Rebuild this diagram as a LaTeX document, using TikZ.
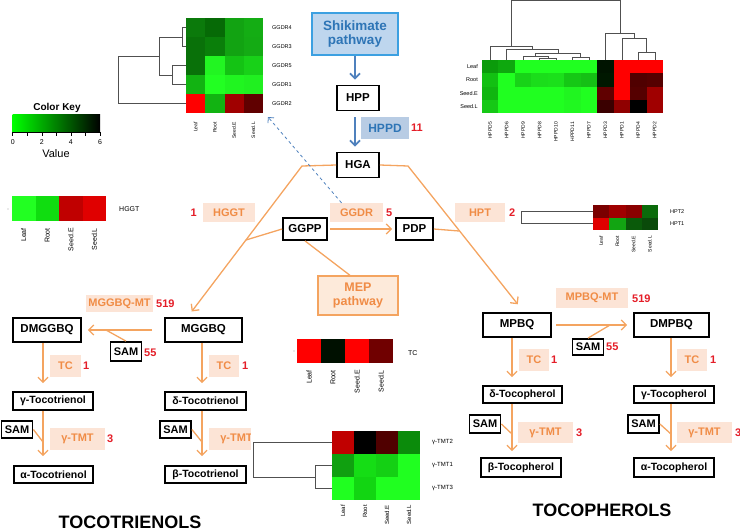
\documentclass[tikz,border=0pt]{standalone}
\usepackage{fontspec}
\setmainfont{Liberation Sans}
\newfontfamily\hmfont{Liberation Sans}
\usetikzlibrary{arrows.meta}

\definecolor{rxnline}{RGB}{244,164,96}
\definecolor{enzfill}{RGB}{252,228,214}
\definecolor{enztext}{RGB}{240,140,70}
\definecolor{numred}{RGB}{228,30,40}
\definecolor{shkfill}{RGB}{190,214,238}
\definecolor{shkdraw}{RGB}{60,160,225}
\definecolor{shktext}{RGB}{46,117,182}
\definecolor{hppdfill}{RGB}{184,204,228}
\definecolor{bluearrow}{RGB}{79,129,189}
\definecolor{mepfill}{RGB}{253,234,218}
\definecolor{dendro}{RGB}{80,80,80}
\definecolor{keygreen}{RGB}{0,255,0}

\tikzset{
  mol/.style={draw=black, line width=1.8pt, font=\bfseries\fontsize{11.5}{14}\selectfont, inner sep=0pt, minimum height=24pt},
  sam/.style={mol, minimum width=31pt, minimum height=17pt, font=\bfseries\fontsize{11}{12}\selectfont},
  prod/.style={mol, minimum width=80pt, minimum height=18pt, font=\bfseries\fontsize{10.5}{12}\selectfont},
  enz/.style={fill=enzfill, text=enztext, font=\bfseries\fontsize{11}{13}\selectfont, inner sep=0pt, minimum height=21pt},
  num/.style={text=numred, font=\bfseries\fontsize{11}{13}\selectfont, anchor=west, inner sep=0pt},
  rxn/.style={draw=rxnline, line width=1.3pt, -{Straight Barb[length=5pt,width=10pt]}},
  feed/.style={draw=rxnline, line width=1.3pt},
  blue arrow/.style={draw=bluearrow, line width=1.8pt, -{Straight Barb[length=5pt,width=10pt]}},
  tree/.style={draw=dendro, line width=0.6pt},
  rowlab/.style={font=\hmfont\fontsize{5.5}{6}\selectfont, anchor=west, inner sep=0pt},
  collab/.style={font=\hmfont\fontsize{5}{6}\selectfont, rotate=90, anchor=east, inner sep=0pt},
  biglab/.style={font=\hmfont\fontsize{7}{8}\selectfont, inner sep=0pt},
  title/.style={font=\bfseries\fontsize{18}{22}\selectfont}
}

\begin{document}
\begin{tikzpicture}[x=1pt,y=-1pt]
  \useasboundingbox (0,0) rectangle (740,531);

  % columns of the two branches
  \coordinate (c1) at (43,0);
  \coordinate (c2) at (202,0);
  \coordinate (c3) at (512,0);
  \coordinate (c4) at (671,0);

  % shikimate side
  \node[draw=shkdraw, line width=1.3pt, fill=shkfill, text=shktext, align=center,
        font=\bfseries\fontsize{13.5}{14}\selectfont, minimum width=86pt, minimum height=42pt, inner sep=0pt]
        (shk) at (355,34) {Shikimate\\pathway};
  \node[mol, minimum width=42pt, minimum height=25pt] (hpp) at (358,98) {HPP};
  \node[mol, minimum width=42pt, minimum height=25pt] (hga) at (358,165) {HGA};
  \node[fill=hppdfill, text=shktext, font=\bfseries\fontsize{12}{14}\selectfont, inner sep=0pt,
        minimum width=48pt, minimum height=22pt] (hppd) at (385,128) {HPPD};
  \node[num] (n11) at (411,128) {11};
  \draw[blue arrow, shorten >=5pt] (shk.south) -- (shk.south |- hpp.north);
  \draw[blue arrow, shorten <=6pt, shorten >=5pt] (shk.south |- hpp.south) -- (shk.south |- hga.north);

  % prenyl side
  \node[mol, minimum width=44pt, minimum height=22pt] (ggpp) at (305,229) {GGPP};
  \node[mol, minimum width=37pt, minimum height=22pt] (pdp) at (414.5,229) {PDP};
  \node[enz, minimum width=52pt, minimum height=19pt] (hggt) at (229,212.5) {HGGT};
  \node[num, anchor=east] (n1e) at (197,212.5) {1};
  \node[enz, minimum width=53pt, minimum height=19pt] (ggdr) at (356.5,212.5) {GGDR};
  \node[num] (n5) at (386,212.5) {5};
  \node[enz, minimum width=50pt, minimum height=19pt] (hpt) at (480,212.5) {HPT};
  \node[num] (n2) at (509,212.5) {2};
  \node[draw=rxnline, line width=1.3pt, fill=mepfill, text=enztext, align=center,
        font=\bfseries\fontsize{12.5}{14}\selectfont, minimum width=80pt, minimum height=39pt, inner sep=0pt]
        (mep) at (358,295.5) {MEP\\pathway};
  \draw[rxn, shorten <=2pt, shorten >=3pt] (ggpp.east) -- (pdp.west);
  \draw[feed] ([xshift=-8pt]mep.north) -- (ggpp.south);

  % tocotrienol branch
  \node[mol, minimum width=68pt] (dmggbq) at (47,330) {DMGGBQ};
  \node[mol, minimum width=77pt] (mggbq) at (203.5,330) {MGGBQ};
  \node[enz, minimum width=67pt, minimum height=17pt] (mggbqmt) at (119.5,303.5) {MGGBQ-MT};
  \node[num] (n519a) at (156,304) {519};
  \node[sam, minimum height=19pt] (sama) at (126,351.5) {SAM};
  \node[num] (n55a) at (144,353) {55};
  \coordinate (fa) at (106,330);
  \draw[rxn, shorten <=12pt, shorten >=6pt] (mggbq.west) -- (dmggbq.east);
  \draw[feed] (sama.north) -- (fa);

  \node[enz, minimum width=31pt, minimum height=22pt] (tca) at (65.5,366) {TC};
  \node[num] (n1a) at (83,366) {1};
  \node[enz, minimum width=30pt, minimum height=22pt] (tcb) at (224,366) {TC};
  \node[num] (n1b) at (242,366) {1};
  \node[prod] (gt3) at (53,401) {γ-Tocotrienol};
  \node[prod, minimum width=81pt] (dt3) at (205.5,401) {δ-Tocotrienol};
  \draw[rxn, shorten >=8pt] (dmggbq.south -| c1) -- (gt3.north -| c1);
  \draw[rxn, shorten >=8pt] (mggbq.south -| c2) -- (dt3.north -| c2);

  \node[sam] (samb) at (17,429.5) {SAM};
  \node[sam] (samc) at (175.5,429.5) {SAM};
  \node[enz, minimum width=55pt, minimum height=22pt] (tmta) at (77.5,439) {γ-TMT};
  \node[num] (n3a) at (107,439) {3};
  \node[enz, minimum width=55pt, minimum height=22pt] (tmtb) at (236.5,439) {γ-TMT};
  \node[prod, minimum width=79pt, minimum height=17pt] (at3) at (53.5,474.5) {α-Tocotrienol};
  \node[prod, minimum width=81pt, minimum height=17pt] (bt3) at (205.5,474.5) {β-Tocotrienol};
  \coordinate (fb) at (43,442);
  \coordinate (fc) at (202,442);
  \draw[rxn, shorten >=9pt] (gt3.south -| c1) -- (at3.north -| c1);
  \draw[rxn, shorten >=9pt] (dt3.south -| c2) -- (bt3.north -| c2);
  \draw[feed] (samb.east) -- (fb);
  \draw[feed] (samc.east) -- (fc);
  \node[title] (t3title) at (130,522) {TOCOTRIENOLS};

  % tocopherol branch
  \node[mol, minimum width=68pt] (mpbq) at (517,325) {MPBQ};
  \node[mol, minimum width=75pt] (dmpbq) at (671.5,325) {DMPBQ};
  \node[enz, minimum width=72pt, minimum height=20pt] (mpbqmt) at (592,298) {MPBQ-MT};
  \node[num] (n519b) at (632,299) {519};
  \node[sam, minimum height=16pt] (samd) at (588,347) {SAM};
  \node[num] (n55b) at (606,347) {55};
  \coordinate (fd) at (610,325);
  \draw[rxn, shorten <=4pt, shorten >=6pt] (mpbq.east) -- (dmpbq.west);
  \draw[feed] (samd.north) -- (fd);

  \node[enz, minimum width=30pt, minimum height=22pt] (tcc) at (534,360) {TC};
  \node[num] (n1c) at (551,360) {1};
  \node[enz, minimum width=30pt, minimum height=22pt] (tcd) at (692,360) {TC};
  \node[num] (n1d) at (710,360) {1};
  \node[prod, minimum width=79pt, minimum height=17pt] (dtp) at (522.5,394.5) {δ-Tocopherol};
  \node[prod, minimum width=80pt, minimum height=17pt] (gtp) at (674,394.5) {γ-Tocopherol};
  \draw[rxn, shorten >=8pt] (mpbq.south -| c3) -- (dtp.north -| c3);
  \draw[rxn, shorten >=8pt] (dmpbq.south -| c4) -- (gtp.north -| c4);

  \node[sam, minimum height=18pt] (same) at (485,424) {SAM};
  \node[sam, minimum height=18pt] (samf) at (643.5,424) {SAM};
  \node[enz, minimum width=55pt, minimum height=21pt] (tmtc) at (545.5,432.5) {γ-TMT};
  \node[num] (n3c) at (576,433) {3};
  \node[enz, minimum width=55pt, minimum height=21pt] (tmtd) at (704.5,432.5) {γ-TMT};
  \node[num] (n3d) at (735,433) {3};
  \node[prod, minimum width=80pt, minimum height=19pt] (btp) at (521,467.5) {β-Tocopherol};
  \node[prod, minimum width=80pt, minimum height=19pt] (atp) at (674,467.5) {α-Tocopherol};
  \coordinate (fe) at (512,434);
  \coordinate (ff) at (671,434);
  \draw[rxn, shorten >=6pt] (dtp.south -| c3) -- (btp.north -| c3);
  \draw[rxn, shorten >=6pt] (gtp.south -| c4) -- (atp.north -| c4);
  \draw[feed] (same.east) -- (fe);
  \draw[feed] (samf.east) -- (ff);
  \node[title] (tptitle) at (602,510) {TOCOPHEROLS};

  % HGA branches
  \coordinate (lk) at (302,166);
  \coordinate (rk) at (408,166);
  \coordinate (lj) at (246,240);
  \coordinate (rj) at (459,231);
  \draw[rxn, shorten >=7pt] (hga.west) -- (lk) -- ([xshift=-16pt]mggbq.north);
  \draw[rxn, shorten >=10pt] (hga.east) -- (rk) -- ([xshift=7pt]mpbq.north);
  \draw[feed] (ggpp.west) -- (lj);
  \draw[feed] (pdp.east) -- (rj);

  % GGDR heat map
  \foreach \row [count=\r from 0] in {{0B7A0B,066A06,12A312,14AD14},{097109,0A7F0A,12A312,14AB14},
      {097109,22F522,14C314,18D118},{12B312,22FF22,20F520,20F020},{FF0000,12B312,A00000,600000}} {
    \foreach \c [count=\k from 0] in \row {
      \definecolor{cell}{HTML}{\c}
      \fill[cell] (186+19.25*\k,18+19*\r) rectangle ++(19.25,19);
    }
  }
  \foreach \g [count=\r from 0] in {GGDR4,GGDR3,GGDR5,GGDR1,GGDR2}
    \node[rowlab] (ggdr-\r) at (272,27.5+19*\r) {\g};
  \foreach \s [count=\k from 0] in {Leaf,Root,Seed.E,Seed.L}
    \node[collab] (ggdrcol-\k) at (195.6+19.25*\k,122) {\s};
  \draw[tree] (186,27.5) -- (182,27.5) -- (182,46.5) -- (186,46.5);
  \draw[tree] (186,65.5) -- (172.7,65.5) -- (172.7,84.5) -- (186,84.5);
  \draw[tree] (182,37) -- (159,37) -- (159,75) -- (172.7,75);
  \draw[tree] (159,56) -- (118,56) -- (118,103.5) -- (186,103.5);
  \coordinate (dtip) at (268,117);
  \draw[draw=bluearrow, line width=0.8pt, dashed, -{Straight Barb[length=4pt,width=8pt]}]
    ([xshift=-15pt]ggdr.north) -- (dtip);

  % colour key
  \node[font=\hmfont\bfseries\fontsize{10}{12}\selectfont] (keytitle) at (57,108) {Color Key};
  \shade[left color=keygreen, middle color=red, right color=black] (12.7,114) rectangle (100,132);
  \draw[line width=0.6pt] (12.7,132) -- (100,132);
  \foreach \k in {0,...,6}
    \draw[line width=0.6pt] (12.7+14.55*\k,132) -- ++(0,3.5);
  \foreach \v [count=\k from 0] in {0,2,4,6}
    \node[font=\hmfont\fontsize{7}{8}\selectfont] (keyv-\k) at (12.7+29.1*\k,142.5) {\v};
  \node[font=\hmfont\fontsize{11}{12}\selectfont] (keyval) at (56,154) {Value};

  % HGGT heat map
  \foreach \c [count=\k from 0] in {22FF22,10DD10,C00000,E00000} {
    \definecolor{cell}{HTML}{\c}
    \fill[cell] (12+23.5*\k,196) rectangle ++(23.5,25);
  }
  \fill (8,209) circle (0.4);
  \node[biglab, anchor=west] (hggtrow) at (119,209) {HGGT};
  \foreach \s [count=\k from 0] in {Leaf,Root,Seed.E,Seed.L}
    \node[biglab, rotate=90, anchor=east] (hggtcol-\k) at (23.75+23.5*\k,228) {\s};

  % HPPD heat map
  \foreach \row [count=\r from 0] in {{0B9B0B,0EA80E,20FF20,20FF20,20FF20,20FF20,20FF20,001400,FF0000,FF0000,FF0000},
      {12C012,20FF20,18D318,1BDD1B,1BE01B,15C815,15C015,001800,FF0000,500000,550000},
      {10B510,20FF20,20FF20,20FF20,20FF20,20F520,20FF20,600000,FF0000,550000,A00000},
      {16C816,20FF20,20FF20,20FF20,20FF20,20F820,20FF20,3A0000,900000,000000,A00000}} {
    \foreach \c [count=\k from 0] in \row {
      \definecolor{cell}{HTML}{\c}
      \fill[cell] (482+16.45*\k,60+13.25*\r) rectangle ++(16.45,13.25);
    }
  }
  \foreach \s [count=\r from 0] in {Leaf,Root,Seed.E,Seed.L}
    \node[rowlab, anchor=east] (hppdrow-\r) at (478,66.6+13.25*\r) {\s};
  \foreach \s [count=\k from 0] in {HPPD5,HPPD6,HPPD9,HPPD8,HPPD10,HPPD11,HPPD7,HPPD3,HPPD1,HPPD4,HPPD2}
    \node[collab] (hppdcol-\k) at (490.2+16.45*\k,122) {\s};
  \draw[tree] (539.6,60) -- (539.6,58) -- (556,58) -- (556,60);
  \draw[tree] (523.1,60) -- (523.1,56) -- (547.8,56) -- (547.8,58);
  \draw[tree] (572.5,60) -- (572.5,57) -- (589,57) -- (589,60);
  \draw[tree] (535.5,56) -- (535.5,53.3) -- (580.7,53.3) -- (580.7,57);
  \draw[tree] (506.7,60) -- (506.7,49.3) -- (558.1,49.3) -- (558.1,53.3);
  \draw[tree] (490.2,60) -- (490.2,46.7) -- (532.4,46.7) -- (532.4,49.3);
  \draw[tree] (638.3,60) -- (638.3,52) -- (654.8,52) -- (654.8,60);
  \draw[tree] (621.9,60) -- (621.9,38) -- (646.5,38) -- (646.5,52);
  \draw[tree] (605.4,60) -- (605.4,33) -- (634.2,33) -- (634.2,38);
  \draw[tree] (511.3,46.7) -- (511.3,0.7) -- (619.8,0.7) -- (619.8,33);

  % HPT heat map
  \foreach \row [count=\r from 0] in {{7A0000,A00000,8A0000,0B6B0B},{E00000,12A512,0A5A0A,0A4A0A}} {
    \foreach \c [count=\k from 0] in \row {
      \definecolor{cell}{HTML}{\c}
      \fill[cell] (593+16.25*\k,205+12.5*\r) rectangle ++(16.25,12.5);
    }
  }
  \foreach \g [count=\r from 0] in {HPT2,HPT1}
    \node[rowlab] (hptrow-\r) at (670,211.25+12.5*\r) {\g};
  \foreach \s [count=\k from 0] in {Leaf,Root,Seed.E,Seed.L}
    \node[collab] (hptcol-\k) at (601.1+16.25*\k,236) {\s};
  \draw[tree] (593,211.25) -- (521,211.25) -- (521,223.75) -- (593,223.75);

  % TC heat map
  \foreach \c [count=\k from 0] in {FF0000,001000,FF0000,700000} {
    \definecolor{cell}{HTML}{\c}
    \fill[cell] (297+24*\k,339) rectangle ++(24,24);
  }
  \fill (294,351) circle (0.4);
  \node[biglab, anchor=west] (tcrow) at (408,353) {TC};
  \foreach \s [count=\k from 0] in {Leaf,Root,Seed.E,Seed.L}
    \node[biglab, rotate=90, anchor=east] (tccol-\k) at (309+24*\k,370) {\s};

  % gamma-TMT heat map
  \fill[white] (251,420) rectangle (455,531);
  \foreach \row [count=\r from 0] in {{C00000,000000,500000,0B8B0B},{10A010,15DD15,14D014,20FF20},{20FF20,12D512,20FF20,20FF20}} {
    \foreach \c [count=\k from 0] in \row {
      \definecolor{cell}{HTML}{\c}
      \fill[cell] (332+22*\k,431+23*\r) rectangle ++(22,23);
    }
  }
  \foreach \g [count=\r from 0] in {γ-TMT2,γ-TMT1,γ-TMT3}
    \node[rowlab, font=\hmfont\fontsize{6}{7}\selectfont] (tmtrow-\r) at (432,442.5+23*\r) {\g};
  \foreach \s [count=\k from 0] in {Leaf,Root,Seed.E,Seed.L}
    \node[collab, font=\hmfont\fontsize{6}{7}\selectfont] (tmtcol-\k) at (343+22*\k,505) {\s};
  \draw[tree] (332,465.5) -- (315,465.5) -- (315,488.5) -- (332,488.5);
  \draw[tree] (332,442.5) -- (253,442.5) -- (253,477) -- (315,477);
\end{tikzpicture}
\end{document}
